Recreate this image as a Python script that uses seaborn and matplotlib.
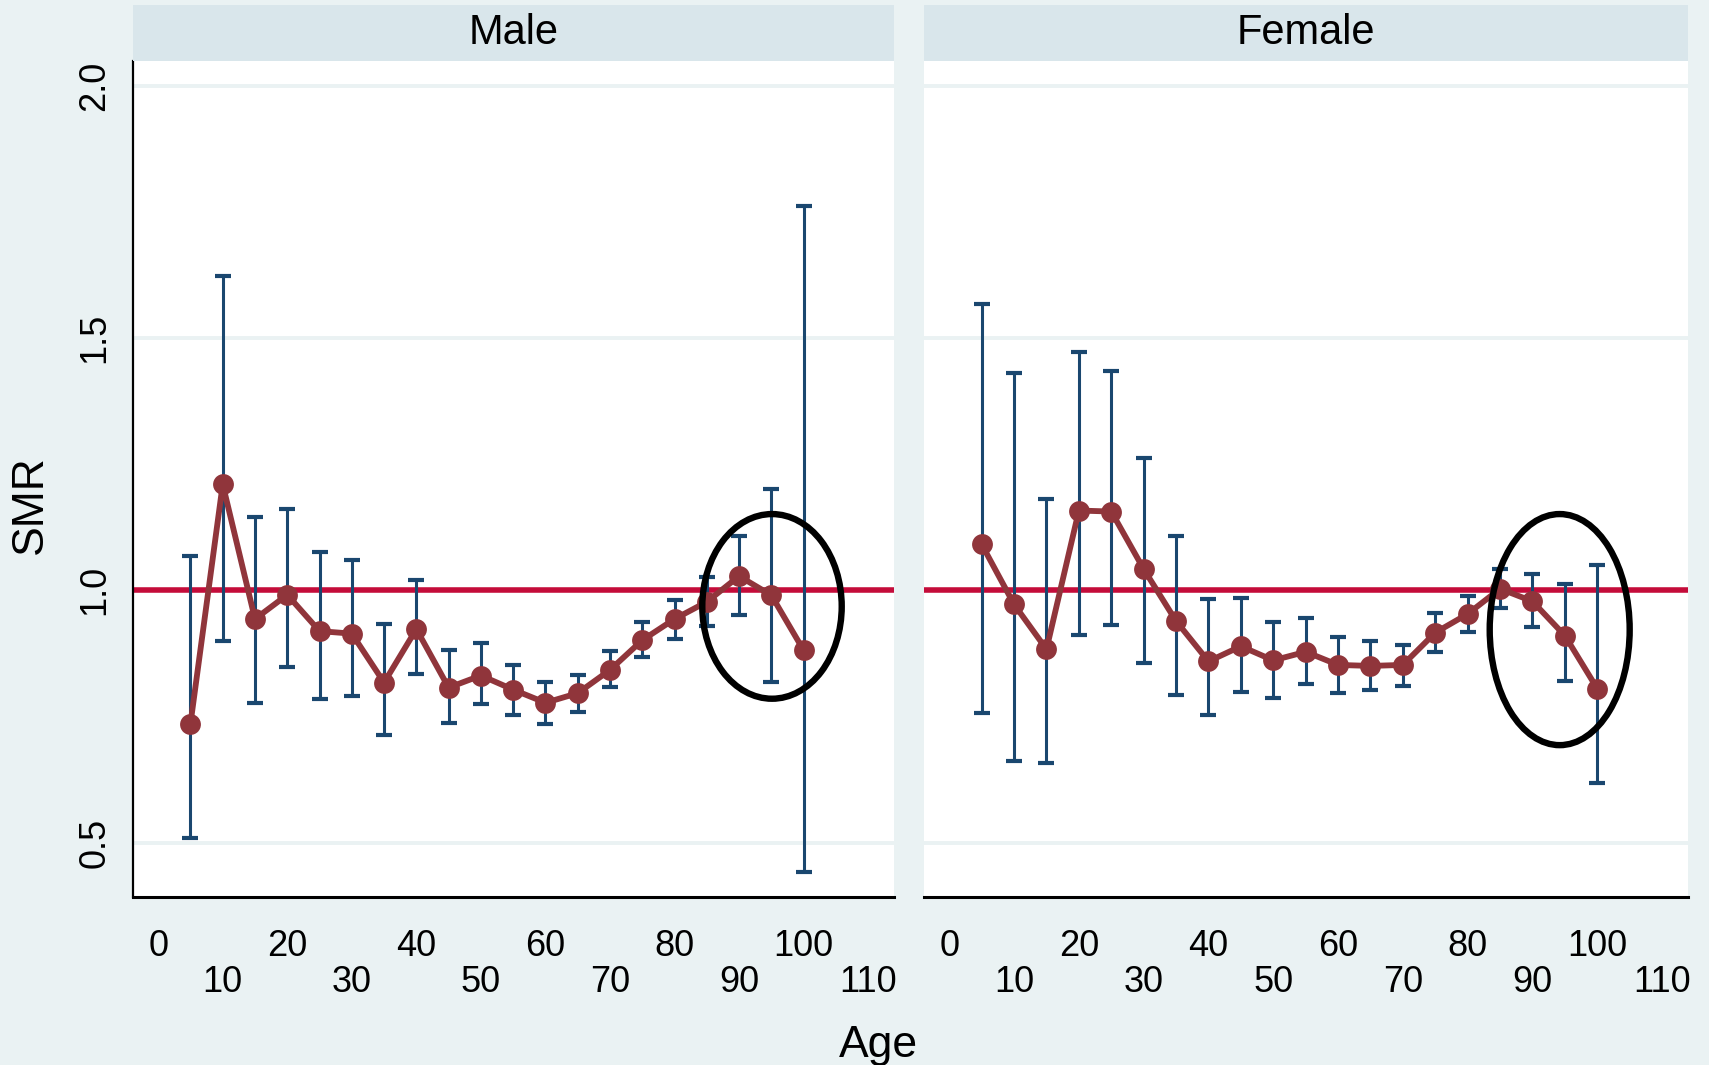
import numpy as np
import pandas as pd
import seaborn as sns
import matplotlib.pyplot as plt
from matplotlib.patches import Ellipse

# -----------------------------
# Data
# -----------------------------
ages = [5, 10, 15, 20, 25, 30, 35, 40, 45, 50,
        55, 60, 65, 70, 75, 80, 85, 90, 95, 100]

male_smr = [0.735, 1.210, 0.943, 0.991, 0.919, 0.914, 0.817, 0.923, 0.807, 0.831,
            0.803, 0.777, 0.796, 0.842, 0.901, 0.943, 0.977, 1.028, 0.990, 0.881]
male_lo = [0.509, 0.900, 0.776, 0.848, 0.784, 0.790, 0.714, 0.834, 0.737, 0.774,
           0.753, 0.735, 0.759, 0.808, 0.867, 0.904, 0.929, 0.951, 0.818, 0.441]
male_hi = [1.067, 1.623, 1.145, 1.161, 1.075, 1.060, 0.934, 1.021, 0.881, 0.895,
           0.852, 0.818, 0.833, 0.879, 0.937, 0.981, 1.026, 1.107, 1.201, 1.761]

female_smr = [1.091, 0.972, 0.883, 1.158, 1.156, 1.042, 0.939, 0.859, 0.889, 0.861,
              0.878, 0.852, 0.850, 0.852, 0.916, 0.953, 1.003, 0.978, 0.910, 0.805]
female_lo = [0.756, 0.662, 0.658, 0.912, 0.931, 0.855, 0.793, 0.753, 0.799, 0.787,
             0.814, 0.797, 0.803, 0.810, 0.878, 0.917, 0.964, 0.927, 0.821, 0.617]
female_hi = [1.567, 1.430, 1.181, 1.472, 1.434, 1.263, 1.107, 0.983, 0.985, 0.938,
             0.945, 0.908, 0.900, 0.892, 0.954, 0.989, 1.043, 1.032, 1.012, 1.051]

panels = ["Male", "Female"]
# highlighted region (centre age, centre smr, half-width, half-height)
circle_male = (95.1, 0.968, 10.8, 0.183)
circle_female = (94.2, 0.922, 10.8, 0.229)

even_ticks = [0, 20, 40, 60, 80, 100]
odd_ticks = [10, 30, 50, 70, 90, 110]
y_ticks = [0.5, 1.0, 1.5, 2.0]

df = pd.concat([
    pd.DataFrame({"sex": "Male", "age": ages, "smr": male_smr,
                  "lo": male_lo, "hi": male_hi}),
    pd.DataFrame({"sex": "Female", "age": ages, "smr": female_smr,
                  "lo": female_lo, "hi": female_hi}),
])

# -----------------------------
# Style
# -----------------------------
sns.set_style("white")
plt.rcParams['font.family'] = ['Liberation Sans', 'DejaVu Sans']
plt.rcParams['text.color'] = 'black'
plt.rcParams['xtick.color'] = 'black'
plt.rcParams['ytick.color'] = 'black'

BG = "#EAF2F3"
STRIP = "#D9E6EB"
GRID = "#EAF2F3"
NAVY = "#1A476F"
MAROON = "#90353B"
RED = "#C40C3A"

W, H = 1709, 1065
fig = plt.figure(figsize=(W / 100, H / 100), dpi=100, facecolor=BG)

boxes = {"Male": (133, 894), "Female": (924, 1688)}
top_px, bot_px, strip_top = 61, 897, 5

circles = {"Male": circle_male, "Female": circle_female}

for i, sex in enumerate(panels):
    x0, x1 = boxes[sex]
    ax = fig.add_axes([x0 / W, 1 - bot_px / H, (x1 - x0) / W, (bot_px - top_px) / H])
    ax.set_facecolor("white")
    sub = df[df["sex"] == sex]

    for yv in y_ticks:
        ax.axhline(yv, color=GRID, lw=2.8, zorder=0)
    ax.axhline(1.0, color=RED, lw=4.0, zorder=1)

    ax.errorbar(sub["age"], sub["smr"],
                yerr=[sub["smr"] - sub["lo"], sub["hi"] - sub["smr"]],
                fmt="none", ecolor=NAVY, elinewidth=2.2,
                capsize=5.5, capthick=3.0, zorder=2)

    sns.lineplot(data=sub, x="age", y="smr", ax=ax, color=MAROON,
                 lw=4.2, marker="o", markersize=15, markeredgewidth=0,
                 zorder=3)

    cx, cy, hw, hh = circles[sex]
    ax.add_patch(Ellipse((cx, cy), 2 * hw, 2 * hh, fill=False,
                         edgecolor="black", lw=4.6, zorder=4))

    ax.set_xlim(-3.9, 114)
    ax.set_ylim(0.392, 2.049)
    ax.set_xlabel("")
    ax.set_ylabel("")

    ax.set_xticks(even_ticks)
    ax.set_xticklabels([str(t) for t in even_ticks])
    ax.set_xticks(odd_ticks, minor=True)
    ax.set_xticklabels([str(t) for t in odd_ticks], minor=True)
    ax.tick_params(axis="x", which="both", direction="out", length=16,
                   width=1.6, labelsize=26)
    ax.tick_params(axis="x", which="major", pad=7)
    ax.tick_params(axis="x", which="minor", pad=33)

    for s in ["top", "right"]:
        ax.spines[s].set_visible(False)
    ax.spines["bottom"].set_linewidth(2.2)
    ax.spines["bottom"].set_color("black")

    if i == 0:
        ax.set_yticks(y_ticks)
        ax.set_yticklabels([f"{t:.1f}" for t in y_ticks], rotation=90, va="center")
        ax.tick_params(axis="y", direction="out", length=9, width=1.6,
                       labelsize=26, pad=6)
        ax.spines["left"].set_linewidth(1.6)
        ax.spines["left"].set_color("black")
    else:
        ax.set_yticks([])
        ax.spines["left"].set_visible(False)

    # panel strip
    sax = fig.add_axes([x0 / W, 1 - top_px / H, (x1 - x0) / W, (top_px - strip_top) / H])
    sax.set_facecolor(STRIP)
    sax.set_xticks([])
    sax.set_yticks([])
    for s in sax.spines.values():
        s.set_visible(False)
    sax.text(0.5, 0.5, sex, ha="center", va="center", fontsize=30,
             transform=sax.transAxes)

fig.text(30 / W, 1 - 505 / H, "SMR", rotation=90, ha="center", va="center",
         fontsize=32)
fig.text(878 / W, 1 - 1045 / H, "Age", ha="center", va="center", fontsize=32)

fig.savefig("out.png", dpi=100, facecolor=BG)
